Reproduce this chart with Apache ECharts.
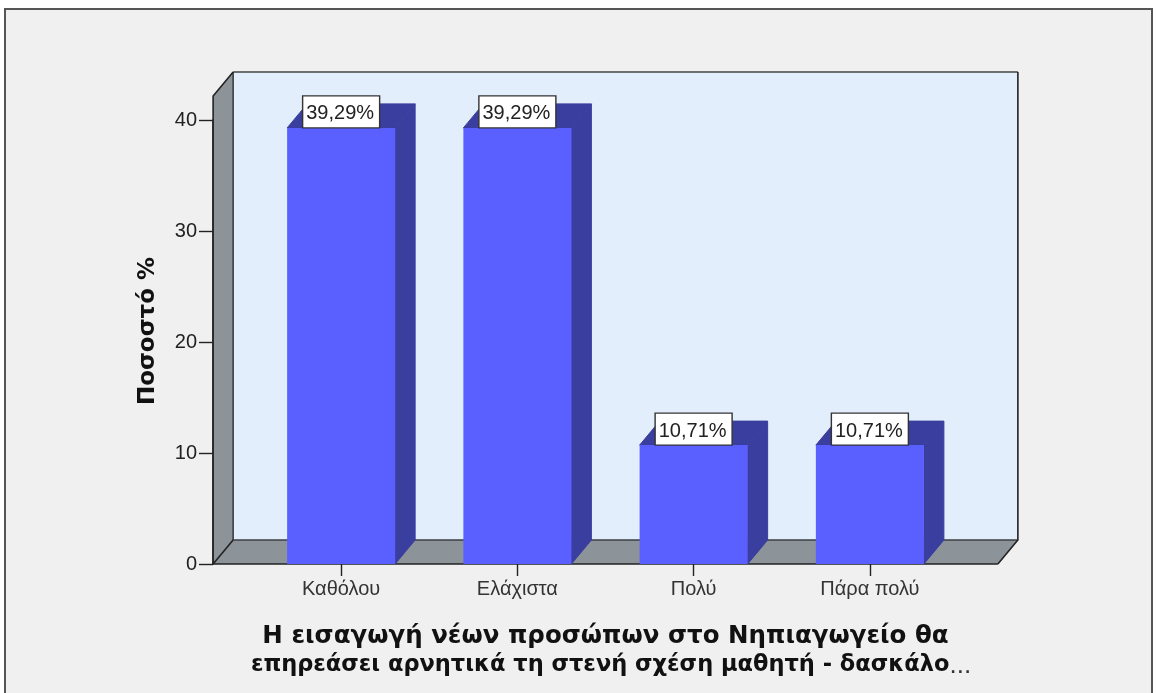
<!DOCTYPE html>
<html>
<head>
<meta charset="utf-8">
<style>html,body{margin:0;padding:0;background:#fff}#c{width:1157px;height:693px}</style>
<script src="https://cdn.jsdelivr.net/npm/echarts@6/dist/echarts.min.js"></script>
</head>
<body>
<div id="c"></div>
<script>
const categories = ['Καθόλου', 'Ελάχιστα', 'Πολύ', 'Πάρα πολύ'];
const percentages = [39.29, 39.29, 10.71, 10.71];
const valueTicks = { min: 0, max: 40, interval: 10 };
const frontWallTop = 42.16;
const xTitle = 'Η εισαγωγή νέων προσώπων στο Νηπιαγωγείο θα';
const xTitle2 = 'επηρεάσει αρνητικά τη στενή σχέση μαθητή - δασκάλο';
const yTitle = 'Ποσοστό %';

const DX = 20, DY = -24;
const BAR_W = 108, WALL_PAD = 128;
const SANS = '"Liberation Sans", Arial, sans-serif';
const TITLE_FONT = '"DejaVu Sans", sans-serif';

const chart = echarts.init(document.getElementById('c'));

function renderWalls(params, api) {
  const first = api.coord([0, 0]);
  const last = api.coord([categories.length - 1, 0]);
  const top = api.coord([0, frontWallTop]);
  const L = first[0] - WALL_PAD, R = last[0] + WALL_PAD, B = first[1], T = top[1];
  const dark = { stroke: '#222', lineWidth: 1.6, fill: null };
  return {
    type: 'group',
    children: [
      { type: 'rect', shape: { x: L + DX, y: T + DY, width: R - L, height: B - T }, style: { fill: '#e2eefb' } },
      { type: 'polygon', shape: { points: [[L, T], [L + DX, T + DY], [L + DX, B + DY], [L, B]] }, style: { fill: '#8c9399' } },
      { type: 'polygon', shape: { points: [[L, B], [L + DX, B + DY], [R + DX, B + DY], [R, B]] }, style: { fill: '#8c9399' } },
      { type: 'polyline', shape: { points: [[L + DX, T + DY], [R + DX, T + DY]] }, style: { stroke: '#6d7073', lineWidth: 2, fill: null } },
      { type: 'polyline', shape: { points: [[L + DX, T + DY], [L + DX, B + DY], [R + DX, B + DY]] }, style: { stroke: '#3c4044', lineWidth: 1.6, fill: null } },
      { type: 'polyline', shape: { points: [[R + DX, T + DY], [R + DX, B + DY], [R, B]] }, style: dark },
      { type: 'polyline', shape: { points: [[L, B], [L + DX, B + DY]] }, style: dark },
      { type: 'polyline', shape: { points: [[L + DX, T + DY], [L, T], [L, B], [R, B]] }, style: dark }
    ]
  };
}

function renderBar(params, api) {
  const c = api.coord([api.value(0), api.value(1)]);
  const base = api.coord([api.value(0), 0]);
  const l = c[0] - BAR_W / 2, r = c[0] + BAR_W / 2, t = c[1], b = base[1];
  const txt = api.value(1).toFixed(2).replace('.', ',') + '%';
  const shade = { fill: '#3a3e9e', stroke: '#3a3e9e', lineWidth: 1 };
  return {
    type: 'group',
    children: [
      { type: 'polygon', shape: { points: [[l, t], [l + DX, t + DY], [r + DX, t + DY], [r, t]] }, style: shade },
      { type: 'polygon', shape: { points: [[r, t], [r + DX, t + DY], [r + DX, b + DY], [r, b]] }, style: shade },
      { type: 'rect', shape: { x: l, y: t, width: BAR_W, height: b - t }, style: { fill: '#5a60ff' } },
      { type: 'rect', shape: { x: c[0] - 38.5, y: t - 32, width: 77, height: 32 }, style: { fill: '#fff', stroke: '#333', lineWidth: 1.4 } },
      { type: 'text', style: { x: c[0] - 1, y: t - 14, text: txt, align: 'center', verticalAlign: 'middle', font: '20px ' + SANS, fill: '#222' } }
    ]
  };
}

chart.setOption({
  animation: false,
  backgroundColor: '#fff',
  graphic: [
    { type: 'rect', z: -10, shape: { x: 5, y: 9, width: 1147, height: 684 }, style: { fill: '#f0f0f0' } },
    { type: 'polyline', z: -9, shape: { points: [[5, 693], [5, 9], [1152, 9], [1152, 693]] }, style: { stroke: '#555', lineWidth: 2, fill: null } }
  ],
  grid: { left: 253, right: 199, top: 120, bottom: 129 },
  xAxis: {
    type: 'category',
    data: categories,
    axisLine: { show: false },
    axisTick: { show: true, alignWithLabel: true, length: 12, lineStyle: { color: '#222', width: 1.4 } },
    axisLabel: { color: '#333', fontSize: 20, fontFamily: SANS, margin: 15 },
    name: '{a|' + xTitle + '}\n{c|' + xTitle2 + '}{b|...}',
    nameLocation: 'middle',
    nameGap: 58,
    nameTextStyle: {
      rich: {
        a: { fontFamily: TITLE_FONT, fontWeight: 'bold', fontSize: 24.5, color: '#111', lineHeight: 29 },
        c: { fontFamily: TITLE_FONT, fontWeight: 'bold', fontSize: 22.5, color: '#111', lineHeight: 29, padding: [0, 0, 0, 11] },
        b: { fontFamily: SANS, fontSize: 26, color: '#333', lineHeight: 29 }
      }
    }
  },
  yAxis: {
    type: 'value',
    min: valueTicks.min,
    max: valueTicks.max,
    interval: valueTicks.interval,
    offset: 40,
    splitLine: { show: false },
    axisLine: { show: true, lineStyle: { color: '#222', width: 1.6 } },
    axisTick: { show: true, length: 14, lineStyle: { color: '#222', width: 1.4 } },
    axisLabel: { color: '#222', fontSize: 20, fontFamily: SANS, margin: 16 },
    name: yTitle,
    nameLocation: 'middle',
    nameGap: 53,
    nameRotate: 90,
    nameTextStyle: { fontFamily: TITLE_FONT, fontWeight: 'bold', fontSize: 23, color: '#111', padding: [0, 0, 0, 22] }
  },
  series: [
    { type: 'custom', z: 1, silent: true, renderItem: renderWalls, data: [[0, 0]], clip: false },
    { type: 'custom', z: 2, silent: true, renderItem: renderBar, clip: false,
      data: percentages.map((v, i) => [i, v]) }
  ]
});
</script>
</body>
</html>
